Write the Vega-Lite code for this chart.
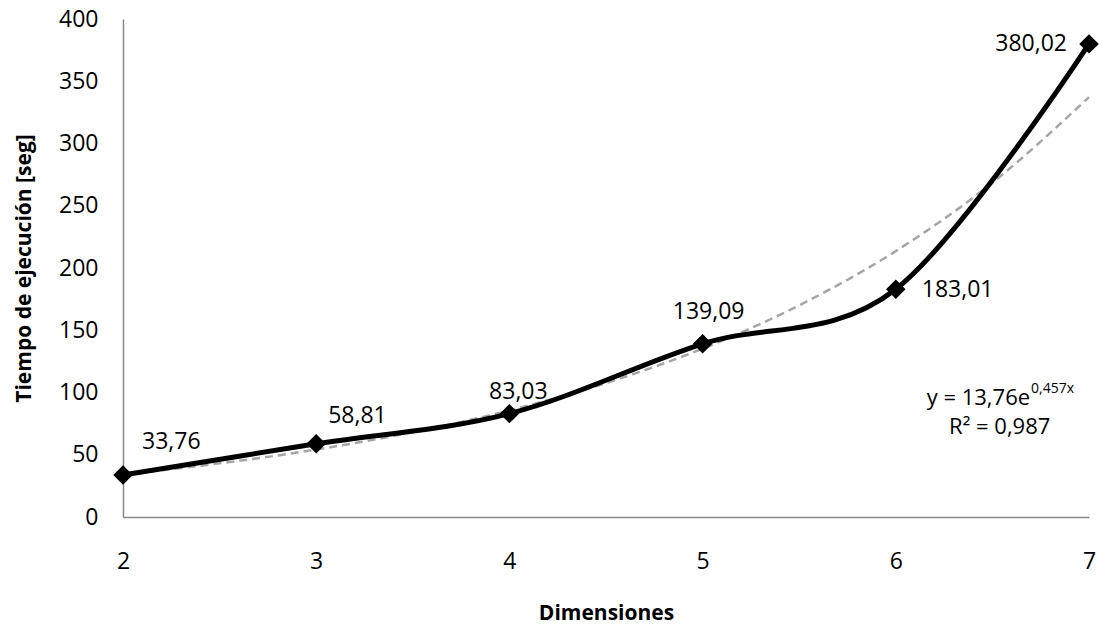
{
  "$schema": "https://vega.github.io/schema/vega-lite/v6.json",
  "width": 966,
  "height": 498,
  "autosize": {"type": "none"},
  "padding": {"left": 123, "top": 19, "right": 10, "bottom": 108},
  "background": "white",
  "config": {
    "view": {"stroke": null},
    "font": "Open Sans",
    "axis": {
      "grid": false,
      "ticks": false,
      "domainColor": "#888888",
      "domainWidth": 1.5,
      "labelFont": "Open Sans",
      "labelFontSize": 23,
      "labelColor": "#000000",
      "labelFlush": false,
      "labelOverlap": false,
      "titleFont": "Open Sans",
      "titleFontSize": 21,
      "titleFontWeight": "bold",
      "titleColor": "#000000"
    }
  },
  "datasets": {
    "main": [
      {"dim": 2, "tiempo": 33.76, "label": "33,76"},
      {"dim": 3, "tiempo": 58.81, "label": "58,81"},
      {"dim": 4, "tiempo": 83.03, "label": "83,03"},
      {"dim": 5, "tiempo": 139.09, "label": "139,09"},
      {"dim": 6, "tiempo": 183.01, "label": "183,01"},
      {"dim": 7, "tiempo": 380.02, "label": "380,02"}
    ],
    "trend": [
      {"dim": 2, "tiempo": 34.3},
      {"dim": 2.5, "tiempo": 43.1},
      {"dim": 3, "tiempo": 54.2},
      {"dim": 3.5, "tiempo": 68.1},
      {"dim": 4, "tiempo": 85.6},
      {"dim": 4.5, "tiempo": 107.6},
      {"dim": 5, "tiempo": 135.2},
      {"dim": 5.5, "tiempo": 170.0},
      {"dim": 6, "tiempo": 213.6},
      {"dim": 6.5, "tiempo": 268.5},
      {"dim": 7, "tiempo": 337.2}
    ],
    "annot": [
      {"eq": "y = 13,76e", "exp": "0,457x", "r2": "R² = 0,987"}
    ]
  },
  "layer": [
    {
      "data": {"name": "trend"},
      "mark": {"type": "line", "color": "#a6a6a6", "strokeWidth": 2.5, "strokeDash": [8, 5], "interpolate": "monotone"},
      "encoding": {
        "x": {"field": "dim", "type": "quantitative", "scale": {"domain": [2, 7], "nice": false, "zero": false},
              "axis": {"values": [2, 3, 4, 5, 6, 7], "format": "d", "labelPadding": 33, "title": "Dimensiones", "titlePadding": 29}},
        "y": {"field": "tiempo", "type": "quantitative", "scale": {"domain": [0, 400], "nice": false},
              "axis": {"values": [0, 50, 100, 150, 200, 250, 300, 350, 400], "labelPadding": 25, "title": "Tiempo de ejecución [seg]", "titlePadding": 24}}
      }
    },
    {
      "data": {"name": "main"},
      "mark": {"type": "line", "color": "#000000", "strokeWidth": 5, "interpolate": "cardinal"},
      "encoding": {
        "x": {"field": "dim", "type": "quantitative"},
        "y": {"field": "tiempo", "type": "quantitative"}
      }
    },
    {
      "data": {"name": "main"},
      "mark": {"type": "point", "shape": "diamond", "filled": true, "color": "#000000", "size": 380, "opacity": 1},
      "encoding": {
        "x": {"field": "dim", "type": "quantitative"},
        "y": {"field": "tiempo", "type": "quantitative"}
      }
    },
    {
      "data": {"name": "main"},
      "transform": [{"filter": "datum.dim == 2"}],
      "mark": {"type": "text", "fontSize": 23, "align": "left", "baseline": "middle", "dx": 19, "dy": -33, "color": "#000000"},
      "encoding": {"x": {"field": "dim", "type": "quantitative"}, "y": {"field": "tiempo", "type": "quantitative"}, "text": {"field": "label"}}
    },
    {
      "data": {"name": "main"},
      "transform": [{"filter": "datum.dim == 3"}],
      "mark": {"type": "text", "fontSize": 23, "align": "left", "baseline": "middle", "dx": 12, "dy": -28, "color": "#000000"},
      "encoding": {"x": {"field": "dim", "type": "quantitative"}, "y": {"field": "tiempo", "type": "quantitative"}, "text": {"field": "label"}}
    },
    {
      "data": {"name": "main"},
      "transform": [{"filter": "datum.dim == 4"}],
      "mark": {"type": "text", "fontSize": 23, "align": "center", "baseline": "middle", "dx": 9, "dy": -22, "color": "#000000"},
      "encoding": {"x": {"field": "dim", "type": "quantitative"}, "y": {"field": "tiempo", "type": "quantitative"}, "text": {"field": "label"}}
    },
    {
      "data": {"name": "main"},
      "transform": [{"filter": "datum.dim == 5"}],
      "mark": {"type": "text", "fontSize": 23, "align": "center", "baseline": "middle", "dx": 6, "dy": -32, "color": "#000000"},
      "encoding": {"x": {"field": "dim", "type": "quantitative"}, "y": {"field": "tiempo", "type": "quantitative"}, "text": {"field": "label"}}
    },
    {
      "data": {"name": "main"},
      "transform": [{"filter": "datum.dim == 6"}],
      "mark": {"type": "text", "fontSize": 23, "align": "left", "baseline": "middle", "dx": 26, "dy": 1, "color": "#000000"},
      "encoding": {"x": {"field": "dim", "type": "quantitative"}, "y": {"field": "tiempo", "type": "quantitative"}, "text": {"field": "label"}}
    },
    {
      "data": {"name": "main"},
      "transform": [{"filter": "datum.dim == 7"}],
      "mark": {"type": "text", "fontSize": 23, "align": "right", "baseline": "middle", "dx": -22, "dy": 0, "color": "#000000"},
      "encoding": {"x": {"field": "dim", "type": "quantitative"}, "y": {"field": "tiempo", "type": "quantitative"}, "text": {"field": "label"}}
    },
    {
      "data": {"name": "annot"},
      "mark": {"type": "text", "fontSize": 22, "align": "right", "baseline": "middle", "color": "#000000"},
      "encoding": {"x": {"datum": 6.695, "type": "quantitative"}, "y": {"datum": 95.6, "type": "quantitative"}, "text": {"field": "eq"}}
    },
    {
      "data": {"name": "annot"},
      "mark": {"type": "text", "fontSize": 14, "align": "left", "baseline": "middle", "dy": -9, "dx": 1, "color": "#000000"},
      "encoding": {"x": {"datum": 6.695, "type": "quantitative"}, "y": {"datum": 95.6, "type": "quantitative"}, "text": {"field": "exp"}}
    },
    {
      "data": {"name": "annot"},
      "mark": {"type": "text", "fontSize": 22, "align": "center", "baseline": "middle", "color": "#000000"},
      "encoding": {"x": {"datum": 6.538, "type": "quantitative"}, "y": {"datum": 72.3, "type": "quantitative"}, "text": {"field": "r2"}}
    }
  ]
}
